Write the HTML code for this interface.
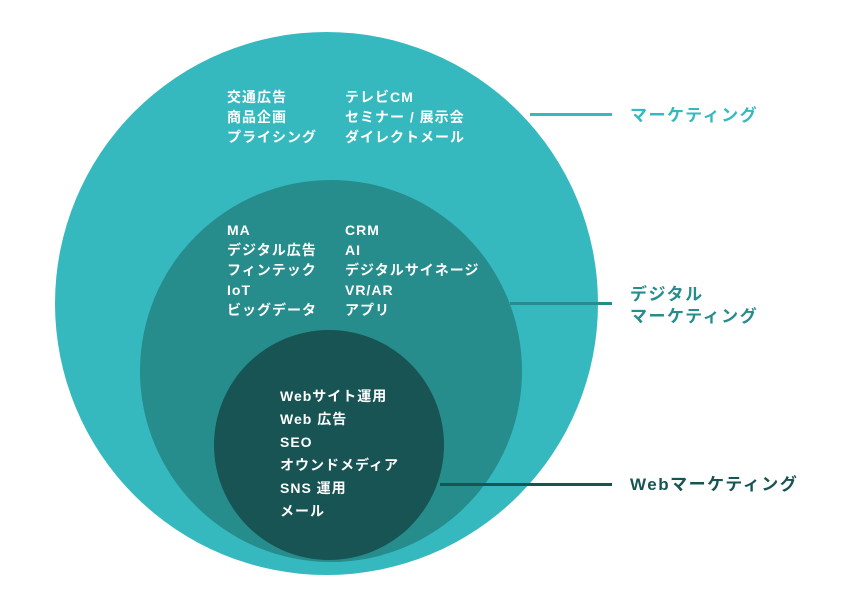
<!DOCTYPE html>
<html><head><meta charset="utf-8"><style>
body{margin:0;background:#fff;}
svg text{font-family:"Liberation Sans","Noto Sans CJK JP",sans-serif;font-weight:bold;}
</style></head><body>
<svg width="854" height="602" viewBox="0 0 854 602" xmlns="http://www.w3.org/2000/svg">
<circle cx="326.5" cy="303.5" r="271.5" fill="#35b9bf"/>
<circle cx="331" cy="371" r="191" fill="#268c8c"/>
<circle cx="329" cy="445" r="115" fill="#175453"/>
<rect x="530" y="113" width="82" height="3" fill="#35b9bf"/>
<rect x="510" y="302" width="102" height="3" fill="#268c8c"/>
<rect x="440" y="483" width="172" height="3" fill="#175453"/>
<g font-size="14" fill="#fff" letter-spacing="1">
<text x="227" y="102">交通広告</text>
<text x="227" y="122">商品企画</text>
<text x="227" y="142">プライシング</text>
<text x="345" y="102">テレビCM</text>
<text x="345" y="122">セミナー / 展示会</text>
<text x="345" y="142">ダイレクトメール</text>
<text x="227" y="235">MA</text>
<text x="227" y="255">デジタル広告</text>
<text x="227" y="275">フィンテック</text>
<text x="227" y="295">IoT</text>
<text x="227" y="315">ビッグデータ</text>
<text x="345" y="235">CRM</text>
<text x="345" y="255">AI</text>
<text x="345" y="275">デジタルサイネージ</text>
<text x="345" y="295">VR/AR</text>
<text x="345" y="315">アプリ</text>
<text x="280" y="401">Webサイト運用</text>
<text x="280" y="424">Web 広告</text>
<text x="280" y="447">SEO</text>
<text x="280" y="470">オウンドメディア</text>
<text x="280" y="493">SNS 運用</text>
<text x="280" y="516">メール</text>
</g>
<g font-size="17" letter-spacing="1.5">
<text x="630" y="121" fill="#35b9bf">マーケティング</text>
<text x="630" y="300" fill="#268c8c">デジタル</text>
<text x="630" y="322" fill="#268c8c">マーケティング</text>
<text x="630" y="490" fill="#175453">Webマーケティング</text>
</g>
</svg>
</body></html>
